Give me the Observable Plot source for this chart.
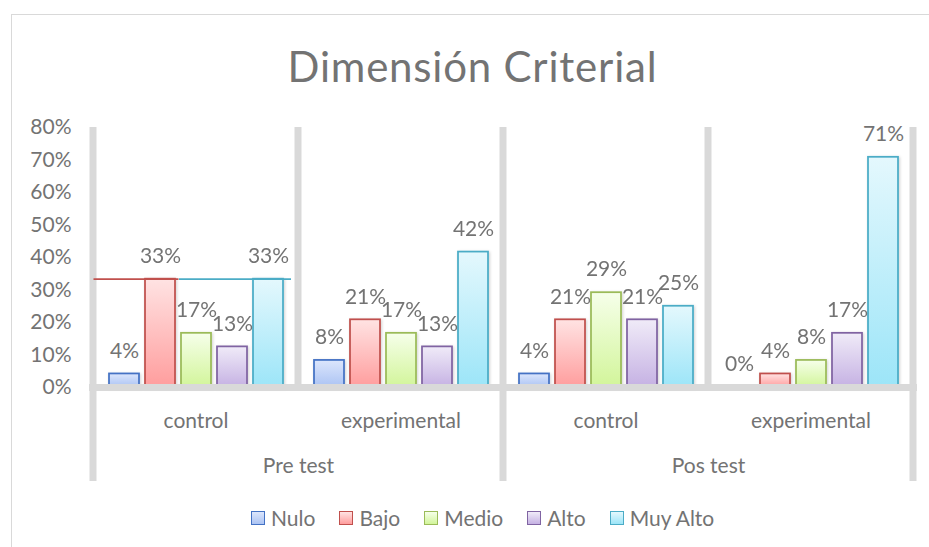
<!DOCTYPE html>
<html><head><meta charset="utf-8">
<script src="https://cdn.jsdelivr.net/npm/d3@7"></script>
<script src="https://cdn.jsdelivr.net/npm/@observablehq/plot@0.6"></script>
<style>
html,body{margin:0;padding:0;background:#fff;overflow:hidden;}
#wrap{position:relative;width:929px;height:547px;overflow:hidden;font-family:Lato,"Open Sans",sans-serif;color:#737373;}
#border{position:absolute;left:11px;top:14px;width:940px;height:560px;border:1.5px solid #d9d9d9;box-sizing:border-box;}
#title{position:absolute;left:0;top:45px;width:945px;text-align:center;font-size:42px;line-height:42px;font-weight:400;letter-spacing:0.8px;white-space:nowrap;}
#chart{position:absolute;left:0;top:100px;}
#legend{position:absolute;left:251px;top:506px;display:flex;align-items:center;font-size:21px;line-height:24px;white-space:nowrap;}
.item{display:flex;align-items:center;margin-right:24px;}
.sw{width:14px;height:14px;box-sizing:border-box;margin-right:6px;}
</style></head>
<body>
<div id="wrap">
  <div id="border"></div>
  <div id="title">Dimensión Criterial</div>
  <div id="chart"></div>
  <div id="legend"></div>
</div>
<script>
// ---- data ----
const tests = ["Pre test", "Pos test"];
const groups = ["control", "experimental"];
const levels = ["Nulo", "Bajo", "Medio", "Alto", "Muy Alto"];
const preControl      = [4.17, 33.33, 16.67, 12.5, 33.33];
const preExperimental = [8.33, 20.83, 16.67, 12.5, 41.67];
const posControl      = [4.17, 20.83, 29.17, 20.83, 25.0];
const posExperimental = [0.0, 4.17, 8.33, 16.67, 70.83];
const yTicks = [0, 10, 20, 30, 40, 50, 60, 70, 80];

// ---- styles ----
const strokeColors = ["#4472c4", "#c0504d", "#9bbb59", "#8064a2", "#4bacc6"];
const gradTop      = ["#dce6fc", "#ffe3e3", "#f6ffea", "#f0ebf8", "#e4f8fd"];
const gradBottom   = ["#abc3f3", "#ff9d9d", "#d2f59a", "#c5b1e3", "#9ce5f8"];
const textColor = "#737373";
const sepColor = "#d9d9d9";

const series = {
  "Pre test|control": preControl,
  "Pre test|experimental": preExperimental,
  "Pos test|control": posControl,
  "Pos test|experimental": posExperimental
};
const keys = [];
tests.forEach(t => groups.forEach(g => keys.push(t + "|" + g)));
const rows = [];
keys.forEach(k => {
  const [test, group] = k.split("|");
  series[k].forEach((v, i) => rows.push({key: k, test, group, level: levels[i], value: v}));
});
const groupRows = keys.map(k => ({key: k, group: k.split("|")[1]}));
const testRows = tests.map(t => ({key: t + "|experimental", test: t}));
const redRule = [{key: "Pre test|control", value: preControl[1], from: levels[0], to: levels[1]}];
const cyanRule = [{key: "Pre test|control", value: preControl[4], from: levels[2], to: levels[4]}];

const marks = [];
levels.forEach((lev, i) => {
  marks.push(Plot.barY(rows.filter(d => d.level === lev), {
    fx: "key", x: "level", y: "value",
    fill: `url(#grad${i})`, stroke: strokeColors[i], strokeWidth: 1.75
  }));
});
marks.push(
  Plot.ruleY([0], {stroke: sepColor, strokeWidth: 7, insetLeft: -4, insetRight: -4}),
  Plot.ruleY(redRule, {fx: "key", y: "value", x1: "from", x2: "to", stroke: strokeColors[1], strokeWidth: 1.75, insetLeft: -15.5, insetRight: -3.5}),
  Plot.ruleY(cyanRule, {fx: "key", y: "value", x1: "from", x2: "to", stroke: strokeColors[4], strokeWidth: 1.75, insetLeft: -2, insetRight: -8}),
  Plot.text(rows, {fx: "key", x: "level", y: "value", text: d => Math.round(d.value) + "%", dy: -23, fill: textColor, fontSize: 21}),
  Plot.text(groupRows, {fx: "key", text: "group", frameAnchor: "bottom", lineAnchor: "middle", dy: 34, fill: textColor, fontSize: 21}),
  Plot.text(testRows, {fx: "key", text: "test", frameAnchor: "bottom-left", lineAnchor: "middle", textAnchor: "middle", dy: 79, fill: textColor, fontSize: 21})
);

const chart = Plot.plot({
  width: 929, height: 400,
  marginTop: 27, marginBottom: 113, marginLeft: 92, marginRight: 15,
  style: {fontFamily: "Lato, 'Open Sans', sans-serif", fontSize: "21px", color: textColor, background: "transparent", overflow: "visible"},
  fx: {domain: keys, padding: 0, axis: null, label: null},
  x: {domain: levels, paddingInner: 0.18, paddingOuter: 0.39, axis: null, label: null},
  y: {domain: [0, 80], ticks: yTicks, tickFormat: d => d + "%", tickSize: 0, tickPadding: 22, label: null},
  marks
});
document.getElementById("chart").appendChild(chart);

// ---- decorations derived from the plot's scales ----
const svg = d3.select(chart.tagName.toLowerCase() === "svg" ? chart : chart.querySelector("svg"));
const fxS = chart.scale("fx"), yS = chart.scale("y");
const yTop = yS.apply(80), yBase = yS.apply(0);
const defs = svg.insert("defs", ":first-child");
levels.forEach((lev, i) => {
  const g = defs.append("linearGradient").attr("id", `grad${i}`).attr("x1", 0).attr("y1", 0).attr("x2", 0).attr("y2", 1);
  g.append("stop").attr("offset", "0%").attr("stop-color", gradTop[i]);
  g.append("stop").attr("offset", "100%").attr("stop-color", gradBottom[i]);
});
const flt = defs.append("filter").attr("id", "shadow").attr("x", "-20%").attr("y", "-20%").attr("width", "140%").attr("height", "140%");
flt.append("feDropShadow").attr("dx", 1).attr("dy", 1).attr("stdDeviation", 1.5).attr("flood-color", "#000").attr("flood-opacity", 0.18);
svg.selectAll('g[aria-label="bar"]').attr("filter", "url(#shadow)");

const sep = svg.insert("g", "defs + *");
const edges = keys.map(k => ({x: fxS.apply(k), long: k.endsWith("|control")}));
edges.push({x: fxS.apply(keys[keys.length - 1]) + fxS.bandwidth, long: true});
edges.forEach(e => {
  sep.append("rect").attr("x", e.x - 3.5).attr("width", 7)
    .attr("y", yTop).attr("height", (e.long ? yBase + 94 : yBase) - yTop)
    .attr("fill", sepColor);
});

// ---- legend ----
const legend = d3.select("#legend");
levels.forEach((lev, i) => {
  const it = legend.append("div").attr("class", "item");
  it.append("div").attr("class", "sw")
    .style("border", `1.5px solid ${strokeColors[i]}`)
    .style("background", `linear-gradient(to bottom, ${gradTop[i]}, ${gradBottom[i]})`);
  it.append("span").text(lev);
});
</script>
</body></html>
